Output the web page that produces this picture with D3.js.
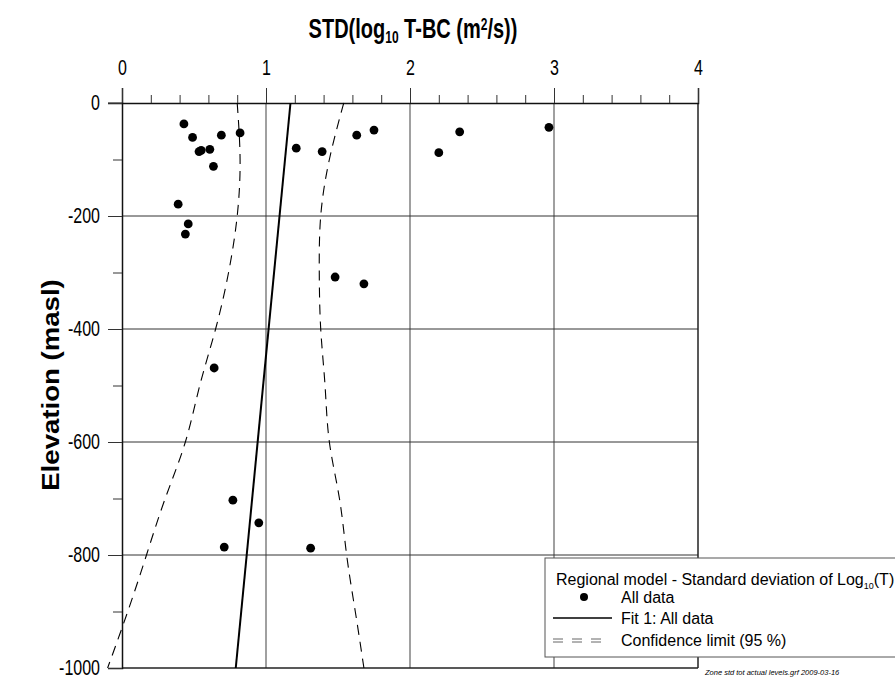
<!DOCTYPE html>
<html>
<head>
<meta charset="utf-8">
<script src="https://cdn.jsdelivr.net/npm/d3@7"></script>
<style>
  body { margin: 0; background: #fff; }
  svg { font-family: "Liberation Sans", Arial, sans-serif; }
</style>
</head>
<body>
<div id="chart"></div>
<script>
// data
var stdVals = [0.43, 0.49, 0.535, 0.55, 0.61, 0.69, 0.82, 0.635, 0.39, 0.46, 0.44,
               1.21, 1.39, 1.63, 1.75, 2.345, 2.20, 2.965, 1.48, 1.68,
               0.64, 0.77, 0.95, 0.71, 1.31];
var elevVals = [-37, -61, -86, -84, -82, -57, -53, -112, -179, -214, -232,
                -80, -86, -57, -48, -51, -88, -43, -308, -320,
                -469, -703, -743, -786, -788];

var fitElev = [0, -1000];
var fitStd = [1.17, 0.79];

var ciElev = [0, -100, -200, -300, -400, -500, -600, -700, -800, -900, -1000];
var ciLow  = [0.80, 0.82, 0.80, 0.74, 0.65, 0.54, 0.44, 0.30, 0.17, 0.04, -0.10];
var ciHigh = [1.54, 1.44, 1.38, 1.37, 1.38, 1.41, 1.44, 1.51, 1.56, 1.62, 1.68];

var xTicks = [0, 1, 2, 3, 4];
var yTicks = [0, -200, -400, -600, -800, -1000];

var width = 895, height = 679;
var stretch = 1.35; // text in the picture is drawn tall and narrow

var svg = d3.select("#chart").append("svg")
    .attr("width", width)
    .attr("height", height);

var x = d3.scaleLinear().domain([0, 4]).range([122, 698]);
var y = d3.scaleLinear().domain([-1000, 0]).range([668, 103]);

// grid
svg.append("g")
    .selectAll("line")
    .data([1, 2, 3])
    .join("line")
    .attr("x1", d => x(d)).attr("x2", d => x(d))
    .attr("y1", y(0)).attr("y2", y(-1000))
    .attr("stroke", "#808080")
    .attr("stroke-width", 1.5);

svg.append("g")
    .selectAll("line")
    .data([-200, -400, -600, -800])
    .join("line")
    .attr("x1", x(0)).attr("x2", x(4))
    .attr("y1", d => y(d)).attr("y2", d => y(d))
    .attr("stroke", "#333")
    .attr("stroke-width", 1);

// frame right + bottom
svg.append("line")
    .attr("x1", x(4)).attr("x2", x(4)).attr("y1", y(0)).attr("y2", y(-1000))
    .attr("stroke", "#222").attr("stroke-width", 1.5);
svg.append("line")
    .attr("x1", x(0)).attr("x2", x(4)).attr("y1", y(-1000)).attr("y2", y(-1000))
    .attr("stroke", "#222").attr("stroke-width", 1.5);

// top axis
var topAxis = svg.append("g")
    .attr("transform", "translate(0," + y(0) + ")")
    .call(d3.axisTop(x).tickValues(xTicks).tickSize(15).tickFormat(d => String(d)));
topAxis.selectAll(".tick text")
    .attr("y", -28 / stretch)
    .attr("transform", "scale(1," + stretch + ")");
svg.append("g")
    .attr("transform", "translate(0," + y(0) + ")")
    .call(d3.axisTop(x).tickValues(d3.range(0.2, 4, 0.2)).tickSize(8).tickFormat(""))
    .select(".domain").remove();

// left axis
var leftAxis = svg.append("g")
    .attr("transform", "translate(" + x(0) + ",0)")
    .call(d3.axisLeft(y).tickValues(yTicks).tickSize(14).tickPadding(8).tickFormat(d => String(d)));
leftAxis.selectAll(".tick text")
    .attr("dy", "0.3em")
    .attr("transform", "scale(1," + stretch + ")");
svg.append("g")
    .attr("transform", "translate(" + x(0) + ",0)")
    .call(d3.axisLeft(y).tickValues([-100, -300, -500, -700, -900]).tickSize(9).tickFormat(""))
    .select(".domain").remove();

svg.selectAll(".domain").attr("stroke", "#111").attr("stroke-width", 1.5);
svg.selectAll(".tick line").attr("stroke", "#333");
svg.selectAll(".tick text")
    .attr("font-family", "Liberation Sans, Arial, sans-serif")
    .attr("fill", "#000")
    .style("font-size", "16px");
// top axis line runs a bit past the left axis
svg.append("line")
    .attr("x1", x(0) - 14).attr("x2", x(0)).attr("y1", y(0)).attr("y2", y(0))
    .attr("stroke", "#333").attr("stroke-width", 1);

// confidence limits
var ciLine = function(vals) {
    return d3.line()
        .x((d, i) => x(vals[i]))
        .y(d => y(d))
        .curve(d3.curveNatural)(ciElev);
};
svg.append("path")
    .attr("d", ciLine(ciLow))
    .attr("fill", "none").attr("stroke", "#000").attr("stroke-width", 1.1)
    .attr("stroke-dasharray", "10,7");
svg.append("path")
    .attr("d", ciLine(ciHigh))
    .attr("fill", "none").attr("stroke", "#000").attr("stroke-width", 1.1)
    .attr("stroke-dasharray", "10,7");

// fit line
svg.append("path")
    .attr("d", d3.line().x((d, i) => x(fitStd[i])).y(d => y(d))(fitElev))
    .attr("fill", "none").attr("stroke", "#000").attr("stroke-width", 2);

// points
svg.append("g")
    .selectAll("circle")
    .data(stdVals)
    .join("circle")
    .attr("cx", d => x(d))
    .attr("cy", (d, i) => y(elevVals[i]))
    .attr("r", 4.4)
    .attr("fill", "#000");

// titles
var title = svg.append("text")
    .attr("transform", "translate(413,38) scale(1," + stretch + ")")
    .attr("text-anchor", "middle")
    .attr("font-size", 20).attr("font-weight", "bold");
title.append("tspan").text("STD(log");
title.append("tspan").attr("font-size", 12).attr("dy", 4).text("10");
title.append("tspan").attr("dy", -4).text(" T-BC (m");
title.append("tspan").attr("font-size", 12).attr("dy", -6).text("2");
title.append("tspan").attr("dy", 6).text("/s))");

svg.append("text")
    .attr("transform", "translate(59,385) rotate(-90) scale(1.2,1)")
    .attr("text-anchor", "middle")
    .attr("font-size", 23).attr("font-weight", "bold")
    .text("Elevation (masl)");

// legend
var lg = svg.append("g");
lg.append("rect")
    .attr("x", 545).attr("y", 558).attr("width", 370).attr("height", 99)
    .attr("fill", "#fff").attr("stroke", "#555").attr("stroke-width", 1);
var lt = lg.append("text").attr("x", 556).attr("y", 585).attr("font-size", 16);
lt.append("tspan").text("Regional model - Standard deviation of Log");
lt.append("tspan").attr("font-size", 9).attr("dy", 4).text("10");
lt.append("tspan").attr("dy", -4).text("(T)");
lg.append("circle").attr("cx", 584).attr("cy", 597).attr("r", 4).attr("fill", "#000");
lg.append("text").attr("x", 621).attr("y", 603).attr("font-size", 16).text("All data");
lg.append("line").attr("x1", 553).attr("x2", 612).attr("y1", 618).attr("y2", 618)
    .attr("stroke", "#000").attr("stroke-width", 1.5);
lg.append("text").attr("x", 621).attr("y", 624).attr("font-size", 16).text("Fit 1: All data");
[639, 642].forEach(function(yy) {
    lg.append("line").attr("x1", 553).attr("x2", 604).attr("y1", yy).attr("y2", yy)
        .attr("stroke", "#555").attr("stroke-width", 0.9)
        .attr("stroke-dasharray", "10,9");
});
lg.append("text").attr("x", 621).attr("y", 646).attr("font-size", 16).text("Confidence limit (95 %)");

// footnote
svg.append("text")
    .attr("x", 705).attr("y", 675)
    .attr("font-size", 7.5).attr("font-style", "italic")
    .text("Zone std tot actual levels.grf  2009-03-16");
</script>
</body>
</html>
